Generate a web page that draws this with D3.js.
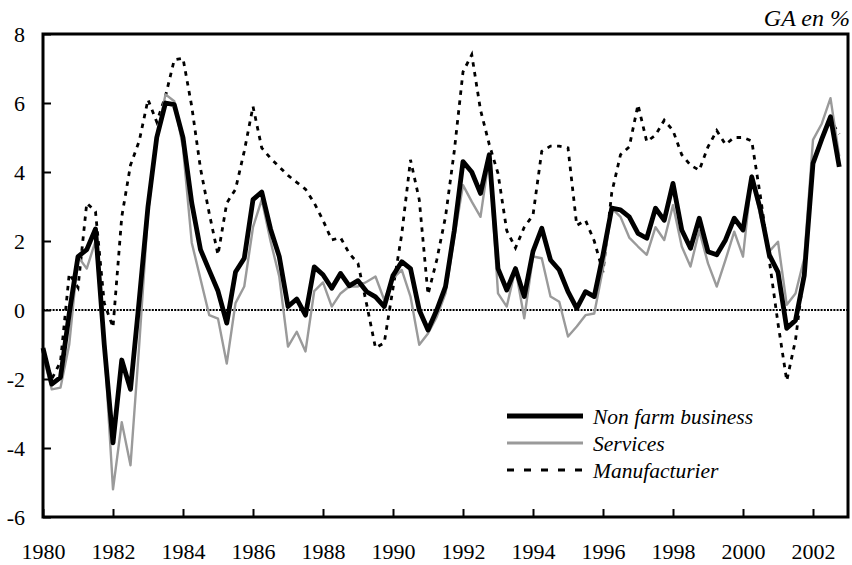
<!DOCTYPE html>
<html>
<head>
<meta charset="utf-8">
<script src="https://cdn.jsdelivr.net/npm/d3@7"></script>
<style>
  html, body { margin: 0; padding: 0; background: #fff; }
  svg { display: block; }
  svg text { font-family: "Times New Roman", "Liberation Serif", Tinos, "DejaVu Serif", serif; fill: #000; }
</style>
</head>
<body>
<div id="chart"></div>
<script>
// ---- Data (quarterly, starting 1980 Q1) ----
const startYear = 1980;
const seriesNames = ["Non farm business", "Services", "Manufacturier"];

const nonFarm = [
  -1.1, -2.15, -1.95, -0.1, 1.55, 1.75, 2.35, -1.0,
  -3.85, -1.45, -2.3, 0.3, 3.0, 5.0, 6.0, 5.95,
  5.0, 3.1, 1.75, 1.15, 0.55, -0.38, 1.1, 1.5,
  3.2, 3.42, 2.35, 1.55, 0.1, 0.32, -0.15, 1.25,
  1.02, 0.63, 1.06, 0.7, 0.85, 0.53, 0.38, 0.1,
  1.0, 1.4, 1.2, 0.0, -0.58, 0.0, 0.68, 2.3,
  4.3, 4.0, 3.38, 4.5, 1.2, 0.58, 1.2, 0.39,
  1.7, 2.37, 1.45, 1.16, 0.53, 0.05, 0.53, 0.39,
  1.6, 2.95, 2.9, 2.7, 2.22, 2.08, 2.95, 2.6,
  3.67, 2.32, 1.79, 2.66, 1.69, 1.6, 2.03, 2.66,
  2.32, 3.86, 2.9, 1.6, 1.1, -0.53, -0.3, 1.0,
  4.25, 4.95, 5.6, 4.15
];

const services = [
  -1.3, -2.3, -2.25, -1.0, 1.55, 1.2, 2.0, -1.0,
  -5.2, -3.25, -4.5, -1.0, 2.8, 5.0, 6.25, 6.05,
  4.7, 1.95, 0.9, -0.15, -0.25, -1.55, 0.2, 0.68,
  2.4, 3.2, 2.0, 0.97, -1.06, -0.63, -1.2, 0.55,
  0.8, 0.1, 0.48, 0.68, 0.68, 0.82, 0.97, 0.29,
  0.92, 1.16, 0.39, -1.01, -0.68, -0.2, 0.48, 2.1,
  3.62, 3.14, 2.7, 4.45, 0.48, 0.1, 1.2, -0.24,
  1.55, 1.5, 0.39, 0.24, -0.77, -0.48, -0.15, -0.1,
  1.2, 2.95, 2.7, 2.1, 1.84, 1.6, 2.4, 2.03,
  3.04, 1.84, 1.26, 2.3, 1.35, 0.68, 1.45, 2.27,
  1.55, 3.9, 2.7, 1.7, 1.98, 0.15, 0.48, 1.5,
  4.93, 5.4, 6.14, 4.45
];

const manufacturing = [
  -1.2, -2.0, -1.5, 1.05, 0.65, 3.1, 2.85, 0.2,
  -0.5, 2.7, 4.2, 4.9, 6.1, 5.45, 6.2, 7.25,
  7.3, 5.9, 4.1, 2.8, 1.6, 3.1, 3.5, 4.6,
  5.9, 4.7, 4.4, 4.15, 3.9, 3.7, 3.5, 3.1,
  2.6, 2.03, 2.1, 1.64, 1.35, 0.15, -1.1, -0.95,
  0.63, 2.2, 4.35, 3.2, 0.45, 1.45, 2.7, 4.6,
  6.9, 7.4, 5.8, 4.8, 3.96, 2.3, 1.8, 2.4,
  2.75, 4.6, 4.75, 4.75, 4.7, 2.45, 2.6, 2.0,
  1.1, 3.4, 4.5, 4.73, 5.95, 4.88, 5.07, 5.5,
  5.2, 4.5, 4.2, 4.05, 4.73, 5.2, 4.8, 5.0,
  5.0, 4.9, 3.28, 1.45, -0.39, -2.05, -0.87, 1.16,
  4.25, 5.0, 5.5, 5.1
];

const xTickLabels = [1980, 1982, 1984, 1986, 1988, 1990, 1992, 1994, 1996, 1998, 2000, 2002];
const yTickLabels = [-6, -4, -2, 0, 2, 4, 6, 8];
const unitLabel = "GA en %";

// ---- Layout ----
const W = 852, H = 565;
const mLeft = 43, mRight = 848, mTop = 34, mBottom = 517;

const svg = d3.select("#chart").append("svg")
  .attr("width", W).attr("height", H);

const x = d3.scaleLinear().domain([1980, 2003]).range([mLeft, mRight]);
const y = d3.scaleLinear().domain([-6, 8]).range([mBottom, mTop]);

const periods = nonFarm.map((_, i) => startYear + i / 4);

// zero line (dotted)
svg.append("line")
  .attr("x1", mLeft).attr("x2", mRight)
  .attr("y1", y(0)).attr("y2", y(0))
  .attr("stroke", "#000").attr("stroke-width", 2.2)
  .attr("stroke-dasharray", "2,1.2");

const line = d3.line()
  .x((d, i) => x(periods[i]))
  .y(d => y(d));

// Manufacturing (dashed)
svg.append("path").datum(manufacturing)
  .attr("d", line).attr("fill", "none")
  .attr("stroke", "#000").attr("stroke-width", 2.8)
  .attr("stroke-dasharray", "4.5,5.5");

// Services (grey)
svg.append("path").datum(services)
  .attr("d", line).attr("fill", "none")
  .attr("stroke", "#9a9a9a").attr("stroke-width", 2.4)
  .attr("stroke-linejoin", "round");

// Non farm business (thick black)
svg.append("path").datum(nonFarm)
  .attr("d", line).attr("fill", "none")
  .attr("stroke", "#000").attr("stroke-width", 4.8)
  .attr("stroke-linejoin", "round");

// Axes
const xAxis = d3.axisBottom(x).tickValues(xTickLabels)
  .tickSizeInner(-8).tickSizeOuter(0).tickPadding(26).tickFormat(d => String(d));
const gx = svg.append("g").attr("transform", `translate(0,${mBottom})`).call(xAxis);
gx.attr("font-family", null).attr("font-size", null);
gx.select(".domain").remove();
gx.selectAll(".tick line").attr("stroke", "#000").attr("stroke-width", 2);
gx.selectAll(".tick text").attr("font-size", "22px").attr("dy", "0.71em");

const yAxis = d3.axisLeft(y).tickValues(yTickLabels)
  .tickSizeInner(-8).tickSizeOuter(0).tickPadding(18).tickFormat(d => String(d));
const gy = svg.append("g").attr("transform", `translate(${mLeft},0)`).call(yAxis);
gy.attr("font-family", null).attr("font-size", null);
gy.select(".domain").remove();
gy.selectAll(".tick line").attr("stroke", "#000").attr("stroke-width", 2);
gy.selectAll(".tick text").attr("font-size", "22px");

// Frame
svg.append("rect")
  .attr("x", mLeft).attr("y", mTop)
  .attr("width", mRight - mLeft).attr("height", mBottom - mTop)
  .attr("fill", "none").attr("stroke", "#000").attr("stroke-width", 3);

// Unit label
svg.append("text")
  .attr("x", 850).attr("y", 26)
  .attr("text-anchor", "end")
  .attr("font-size", "24px").attr("font-style", "italic")
  .text(unitLabel);

// Legend
const legendStyles = [
  { stroke: "#000", width: 5, dash: null },
  { stroke: "#9a9a9a", width: 3, dash: null },
  { stroke: "#000", width: 3, dash: "7,10" }
];
const lg = svg.append("g");
seriesNames.forEach((name, i) => {
  const ly = 416 + i * 27;
  const st = legendStyles[i];
  const l = lg.append("line")
    .attr("x1", 507).attr("x2", 583)
    .attr("y1", ly).attr("y2", ly)
    .attr("stroke", st.stroke).attr("stroke-width", st.width);
  if (st.dash) l.attr("stroke-dasharray", st.dash);
  lg.append("text")
    .attr("x", 593).attr("y", ly + 8)
    .attr("font-size", "21.5px").attr("font-style", "italic")
    .text(name);
});
</script>
</body>
</html>
